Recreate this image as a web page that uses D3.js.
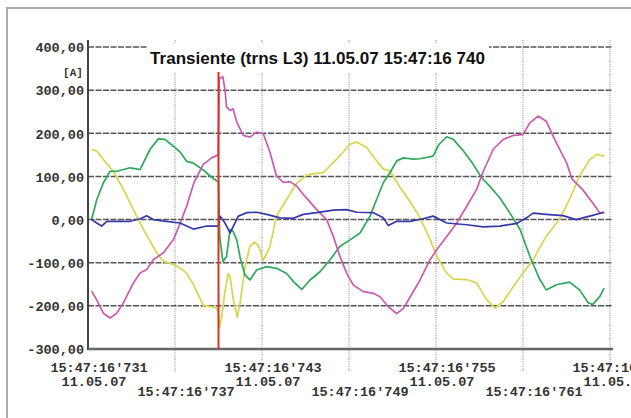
<!DOCTYPE html>
<html>
<head>
<meta charset="utf-8">
<script src="https://cdn.jsdelivr.net/npm/d3@7.9.0/dist/d3.min.js"></script>
<style>
  html, body { margin: 0; padding: 0; background: #fff; }
  svg { display: block; }
  .mono { font-family: "Liberation Mono", "Courier New", monospace; font-weight: bold; fill: #333; }
</style>
</head>
<body>
<svg id="chart" width="631" height="418"></svg>
<script>
// ---- data (time in ms after 15:47:16, current in A) ----
const yTicks = [-300, -200, -100, 0, 100, 200, 300, 400];
const xTicksMs = [731, 737, 743, 749, 755, 761, 767];
const dateLabel = '11.05.07';
const timePrefix = "15:47:16'";
const markerMs = 740;
const titleText = 'Transiente (trns L3) 11.05.07 15:47:16 740';

const yellow = [[731.25,162],[731.6,159],[732.06,139],[732.75,112],[733.44,70],[734.13,23],[734.82,-23],
  [735.74,-77],[736.2,-97],[736.9,-104],[737.34,-112],[737.8,-124],[738.26,-150],[738.95,-199],[739.18,-200],
  [739.64,-203],[739.87,-205],[739.99,-217],[740.05,-250],[740.22,-226],[740.45,-164],[740.68,-125],[740.8,-133],
  [741.03,-187],[741.3,-226],[741.48,-195],[741.83,-109],[742.17,-62],[742.5,-52],[742.75,-60],[743.09,-94],
  [743.55,-62],[744.0,8],[744.7,47],[745.39,84],[746.08,103],[746.5,106],[747.23,109],[748.38,148],[749.07,175],
  [749.53,180],[750.22,167],[750.91,136],[751.37,117],[751.83,113],[752.52,75],[753.21,42],[753.9,4],[754.59,-46],
  [755.05,-85],[755.74,-124],[756.2,-138],[757.12,-139],[757.8,-147],[758.5,-186],[759.07,-205],[759.64,-190],
  [760.33,-155],[761.0,-124],[761.7,-93],[762.6,-39],[763.5,0],[764.2,46],[764.9,101],[765.6,139],[766.1,151],[766.6,147]];

const green = [[731.25,0],[731.6,46],[732.06,85],[732.52,112],[732.98,112],[733.44,116],[733.9,120],[734.59,116],
  [735.28,163],[735.85,187],[736.3,186],[736.89,170],[737.34,157],[737.8,135],[738.26,131],[738.95,115],[739.41,101],
  [739.87,90],[740.0,88],[740.08,-39],[740.3,-97],[740.55,-86],[740.8,-23],[741.0,-27],[741.26,-47],[741.48,-86],
  [741.83,-129],[742.17,-140],[742.63,-117],[743.32,-109],[744.0,-113],[744.7,-125],[745.2,-145],[745.74,-162],
  [746.31,-140],[747.0,-121],[747.69,-93],[748.38,-62],[749.07,-47],[749.76,-31],[750.45,8],[750.91,47],[751.37,86],
  [751.83,109],[752.29,136],[752.75,143],[753.44,140],[753.9,141],[754.8,147],[755.2,174],[755.74,192],[756.2,186],
  [756.89,159],[757.57,128],[758.15,97],[758.72,77],[759.41,50],[760.1,15],[760.8,-23],[761.47,-85],[762.16,-139],
  [762.6,-163],[763.3,-151],[764.2,-145],[764.9,-163],[765.5,-193],[765.8,-197],[766.3,-178],[766.6,-159]];

const magenta = [[731.25,-166],[731.6,-186],[732.06,-217],[732.52,-228],[732.98,-217],[733.44,-193],[734.13,-147],
  [734.59,-124],[735.05,-116],[735.5,-93],[736.2,-77],[736.9,-46],[737.34,-10],[737.8,31],[738.3,85],[738.95,128],
  [739.53,143],[739.98,150],[740.05,327],[740.3,331],[740.45,300],[740.55,261],[740.8,253],[741.0,257],[741.26,226],
  [741.71,195],[742.17,191],[742.63,203],[743.09,199],[743.55,156],[744.0,101],[744.47,86],[744.93,88],[745.39,78],
  [745.85,58],[746.2,45],[746.77,23],[747.46,0],[747.92,-39],[748.38,-86],[748.84,-124],[749.3,-152],[749.99,-167],
  [750.68,-171],[751.14,-179],[751.71,-202],[752.29,-218],[752.75,-206],[753.21,-180],[753.9,-140],[754.59,-93],
  [755.05,-70],[755.74,-39],[756.43,-8],[757.12,31],[757.8,70],[758.26,112],[758.95,163],[759.64,186],[760.33,195],
  [761.0,197],[761.47,224],[762.04,240],[762.6,228],[763.3,178],[764.0,132],[764.4,93],[765.1,70],[765.8,39],
  [766.3,15],[766.6,17]];

const blue = [[731.25,0],[731.6,-8],[731.94,-15],[732.3,-4],[732.98,-4],[733.9,-4],[734.6,2],[735.05,9],[735.5,0],
  [736.4,-4],[737.34,-8],[738.26,-22],[739.2,-15],[739.98,-15],[740.1,8],[740.45,-8],[740.8,-31],[741.03,-15],
  [741.37,8],[741.94,16],[742.63,17],[743.32,12],[744.24,4],[745.16,3],[745.85,12],[746.77,16],[747.92,22],
  [748.84,23],[749.53,17],[750.68,16],[751.37,4],[751.71,-14],[752.29,-4],[753.21,-4],[754.1,2],[754.8,8],
  [755.74,-8],[757.12,-12],[758.26,-17],[759.41,-15],[760.56,-9],[761.24,4],[761.7,15],[762.6,12],[763.76,9],
  [764.67,0],[765.6,8],[766.6,17]];

const seriesList = [
  { name: 'L1', data: yellow, color: '#d6d64c' },
  { name: 'L2', data: green, color: '#2ea85c' },
  { name: 'L3', data: magenta, color: '#cc5ab0' },
  { name: 'N', data: blue, color: '#3838a8' }
];

// ---- layout ----
const svg = d3.select('#chart');
const x = d3.scaleLinear().domain([731, 767]).range([88, 610]);
const y = d3.scaleLinear().domain([-300, 400]).range([349, 47]);
const fmt = v => d3.format('.2f')(v).replace('.', ',').replace('−', '-');

// outer frame
svg.append('rect')
  .attr('x', 7).attr('y', 8).attr('width', 640).attr('height', 430)
  .attr('fill', 'none').attr('stroke', '#aaa').attr('stroke-width', 2);

// horizontal grid
svg.append('g')
  .selectAll('line')
  .data(yTicks.filter(d => d > -300))
  .join('line')
  .attr('x1', x(731)).attr('x2', x(767) + 2)
  .attr('y1', d => y(d)).attr('y2', d => y(d))
  .attr('stroke', '#555').attr('stroke-width', 1.5)
  .attr('stroke-dasharray', '6,1.5');

// vertical grid (dotted, runs a bit below the axis)
svg.append('g')
  .selectAll('line')
  .data(xTicksMs.slice(1))
  .join('line')
  .attr('x1', d => x(d)).attr('x2', d => x(d))
  .attr('y1', 40).attr('y2', 372)
  .attr('stroke', '#888').attr('stroke-width', 1)
  .attr('stroke-dasharray', '1,1.2');

// axes lines
svg.append('line')
  .attr('x1', x(731)).attr('x2', x(731)).attr('y1', 40).attr('y2', y(-300) + 1)
  .attr('stroke', '#444').attr('stroke-width', 2);
svg.append('line')
  .attr('x1', x(731)).attr('x2', x(767) + 3).attr('y1', y(-300)).attr('y2', y(-300))
  .attr('stroke', '#666').attr('stroke-width', 2.5);

// y axis labels
const yAxis = svg.append('g')
  .attr('transform', `translate(${x(731)},0)`)
  .call(d3.axisLeft(y).tickValues(yTicks).tickSize(0).tickPadding(4).tickFormat(fmt));
yAxis.select('.domain').remove();
yAxis.selectAll('text')
  .attr('class', 'mono')
  .attr('font-size', 13.5)
  .attr('dy', '0.35em');

svg.append('text')
  .attr('class', 'mono')
  .attr('x', 73).attr('y', 76)
  .attr('text-anchor', 'middle')
  .attr('font-size', 11)
  .text('[A]');

// x labels, alternating rows
const xl = svg.append('g');
xTicksMs.forEach((ms, i) => {
  const cx = x(ms) + 11;
  const base = i % 2 === 0 ? 372 : 395.5;
  xl.append('text')
    .attr('class', 'mono')
    .attr('x', cx).attr('y', base)
    .attr('text-anchor', 'middle')
    .attr('font-size', 13.5)
    .text(timePrefix + ms);
  if (i % 2 === 0) {
    xl.append('text')
      .attr('class', 'mono')
      .attr('x', x(ms) + 6).attr('y', base + 13.5)
      .attr('text-anchor', 'middle')
      .attr('font-size', 13.5)
      .text(dateLabel);
  }
});

// title with white box over the grid
svg.append('rect')
  .attr('x', 147).attr('y', 43).attr('width', 342).attr('height', 29)
  .attr('fill', '#fff');
svg.append('text')
  .attr('x', 150).attr('y', 64)
  .attr('font-family', '"Liberation Sans", Arial, sans-serif')
  .attr('font-weight', 'bold')
  .attr('font-size', 17)
  .attr('textLength', 335)
  .attr('lengthAdjust', 'spacingAndGlyphs')
  .attr('fill', '#111')
  .text(titleText);

// series
const line = d3.line().x(d => x(d[0])).y(d => y(d[1]));
svg.append('g')
  .selectAll('path')
  .data(seriesList)
  .join('path')
  .attr('d', d => line(d.data))
  .attr('fill', 'none')
  .attr('stroke', d => d.color)
  .attr('stroke-width', 1.7)
  .attr('stroke-linejoin', 'round');

// trigger marker
svg.append('line')
  .attr('x1', x(markerMs)).attr('x2', x(markerMs))
  .attr('y1', 72).attr('y2', y(-300))
  .attr('stroke', '#e0301e').attr('stroke-width', 2);
</script>
</body>
</html>
